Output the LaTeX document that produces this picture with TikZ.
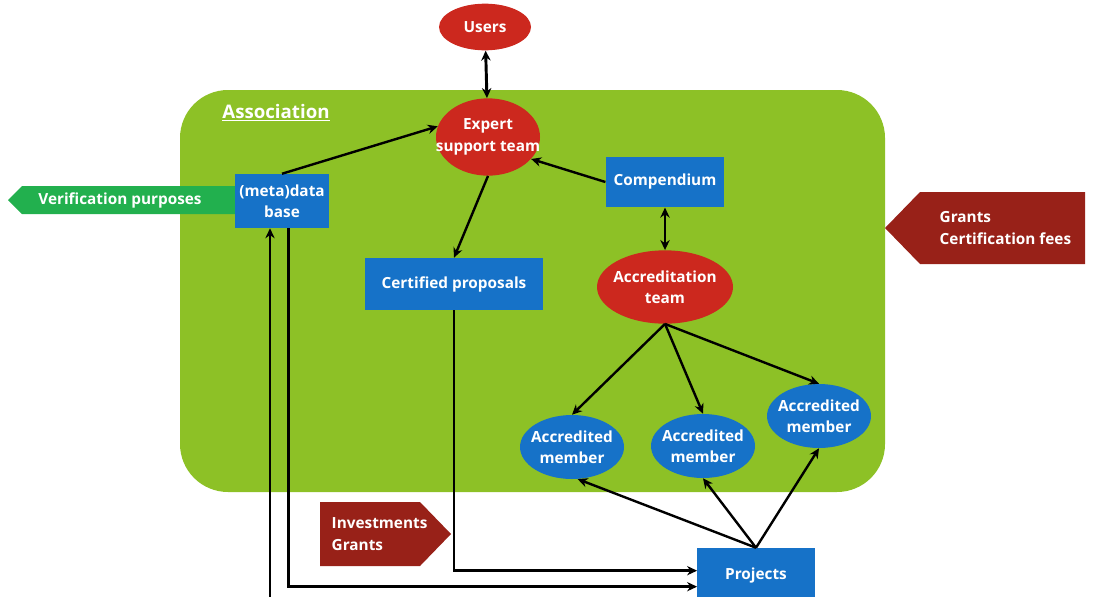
\documentclass[tikz,border=0pt]{standalone}
\usepackage{fontspec}
\setmainfont{Open Sans}
\usepackage{tikz}
\usetikzlibrary{arrows.meta,shapes.geometric}

\definecolor{assocgreen}{RGB}{141,193,38}
\definecolor{teamred}{RGB}{204,40,30}
\definecolor{boxblue}{RGB}{22,114,200}
\definecolor{flowred}{RGB}{152,33,24}
\definecolor{verigreen}{RGB}{34,176,78}

\tikzset{
  every node/.style={font=\fontsize{11.5}{16}\selectfont\bfseries,text=white,align=center},
  team/.style={ellipse,fill=teamred,inner xsep=-13pt,inner ysep=-5pt},
  member/.style={ellipse,fill=boxblue,inner xsep=-13pt,inner ysep=-5pt,minimum width=78pt,minimum height=48pt},
  unit/.style={rectangle,fill=boxblue,inner sep=0pt},
  link/.style={line width=1.8pt,-{Stealth[length=7.5pt,width=7pt]}},
  twoway/.style={line width=2.2pt,{Stealth[length=7.5pt,width=7pt]}-{Stealth[length=7.5pt,width=7pt]}}
}

\begin{document}
\begin{tikzpicture}[x=0.75pt,y=-0.75pt]
\useasboundingbox (0,0) rectangle (1105,596);

% association area
\fill[assocgreen,rounded corners=36pt] (180,90) rectangle (885,492);
\node (assoc) at (276,113) {\fontsize{14}{16}\selectfont\underline{Association}};

% side flows
\fill[verigreen] (8,200) -- (22,186) -- (240,186) -- (240,214) -- (22,214) -- cycle;
\node (verif) at (120,200) {Verification purposes};
\fill[flowred] (885,228) -- (920,192) -- (1085,192) -- (1085,264) -- (920,264) -- cycle;
\node[align=left,anchor=west] (fees) at (935,228) {Grants\\Certification fees};
\fill[flowred] (320,502) -- (420,502) -- (451,534) -- (420,566) -- (320,566) -- cycle;
\node[align=left,anchor=west] (invest) at (327,534) {Investments\\Grants};

\node[team,minimum width=69pt,minimum height=35pt] (users) at (485,27) {Users};
\node[team,minimum width=78pt,minimum height=58pt] (expert) at (488,137) {Expert\\support team};
\node[team,minimum width=102pt,minimum height=55pt] (acc) at (665,287) {Accreditation\\team};

\node[unit,minimum width=71pt,minimum height=40.5pt] (db) at (282,201) {(meta)data\\base};
\node[unit,minimum width=89pt,minimum height=38pt] (comp) at (665,182) {Compendium};
\node[unit,minimum width=133pt,minimum height=39pt] (cert) at (454,284) {Certified proposals};
\node[unit,minimum width=88pt,minimum height=42pt] (proj) at (756,576) {Projects};

\node[member] (m1) at (572,447) {Accredited\\member};
\node[member] (m2) at (703,446) {Accredited\\member};
\node[member] (m3) at (819,416) {Accredited\\member};

\coordinate (feed) at (270,610);

\draw[twoway] (users) -- (expert);
\draw[link] (db.north) -- (expert.168);
\draw[link] (comp.west) -- (expert.-27);
\draw[link] (expert.south) -- (cert.north);
\draw[twoway] (comp.south) -- (acc.north);
\foreach \m in {m1,m2,m3}
  \draw[link] (acc.south) -- (\m.north);
\draw[link] (proj.north) -- (m1.-80);
\draw[link] (proj.north) -- (m2.south);
\draw[link] (proj.north) -- (m3.south);
\draw[link] (cert.south) |- ([yshift=4pt]proj.west);
\draw[link] ([xshift=5pt]db.south) |- ([yshift=-8pt]proj.west);
\draw[link] (feed) -- (feed |- db.south);
\end{tikzpicture}
\end{document}
